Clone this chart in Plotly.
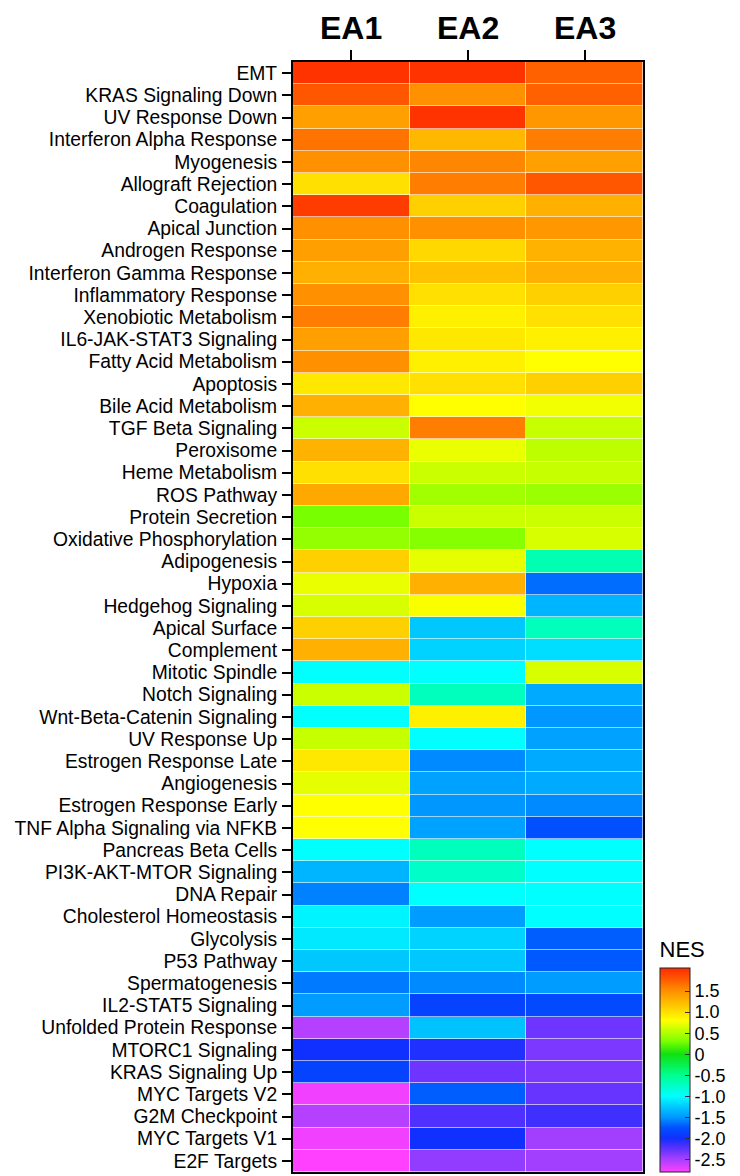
import plotly.graph_objects as go

pathways = [
    "EMT", "KRAS Signaling Down", "UV Response Down", "Interferon Alpha Response",
    "Myogenesis", "Allograft Rejection", "Coagulation", "Apical Junction",
    "Androgen Response", "Interferon Gamma Response", "Inflammatory Response",
    "Xenobiotic Metabolism", "IL6-JAK-STAT3 Signaling", "Fatty Acid Metabolism",
    "Apoptosis", "Bile Acid Metabolism", "TGF Beta Signaling", "Peroxisome",
    "Heme Metabolism", "ROS Pathway", "Protein Secretion", "Oxidative Phosphorylation",
    "Adipogenesis", "Hypoxia", "Hedgehog Signaling", "Apical Surface", "Complement",
    "Mitotic Spindle", "Notch Signaling", "Wnt-Beta-Catenin Signaling", "UV Response Up",
    "Estrogen Response Late", "Angiogenesis", "Estrogen Response Early",
    "TNF Alpha Signaling via NFKB", "Pancreas Beta Cells", "PI3K-AKT-MTOR Signaling",
    "DNA Repair", "Cholesterol Homeostasis", "Glycolysis", "P53 Pathway",
    "Spermatogenesis", "IL2-STAT5 Signaling", "Unfolded Protein Response",
    "MTORC1 Signaling", "KRAS Signaling Up", "MYC Targets V2", "G2M Checkpoint",
    "MYC Targets V1", "E2F Targets",
]
groups = ["EA1", "EA2", "EA3"]

ea1 = [2.0, 1.8, 1.4, 1.65, 1.5, 1.0, 1.95, 1.5, 1.4, 1.3, 1.5, 1.6, 1.4, 1.5,
       0.95, 1.3, 0.6, 1.28, 1.0, 1.35, 0.3, 0.4, 1.1, 0.72, 0.65, 1.1, 1.3,
       -1.0, 0.6, -1.0, 0.58, 0.95, 0.7, 0.8, 0.8, -1.0, -1.35, -1.58, -1.05,
       -1.1, -1.25, -1.6, -1.48, -2.55, -2.0, -1.85, -2.75, -2.55, -2.75, -2.8]
ea2 = [2.0, 1.5, 2.0, 1.25, 1.55, 1.6, 1.1, 1.5, 1.05, 1.2, 1.0, 0.9, 0.95, 0.9,
       1.0, 0.8, 1.6, 0.72, 0.6, 0.45, 0.6, 0.35, 0.7, 1.3, 0.78, -1.25, -1.2,
       -1.0, -0.7, 0.9, -1.0, -1.55, -1.45, -1.5, -1.45, -0.7, -0.75, -1.0, -1.48,
       -1.2, -1.25, -1.55, -1.85, -1.28, -2.05, -2.3, -1.7, -2.2, -2.0, -2.42]
ea3 = [1.75, 1.75, 1.45, 1.6, 1.4, 1.8, 1.3, 1.45, 1.28, 1.3, 1.1, 1.0, 0.9, 0.8,
       1.1, 0.75, 0.58, 0.55, 0.58, 0.42, 0.6, 0.65, -0.65, -1.65, -1.35, -0.7, -1.15,
       0.65, -1.4, -1.5, -1.45, -1.4, -1.4, -1.55, -1.75, -1.0, -1.0, -1.0, -1.0,
       -1.7, -1.72, -1.48, -1.8, -2.3, -2.35, -2.35, -2.28, -2.15, -2.48, -2.48]

cbar_vals = [1.5, 1.0, 0.5, 0, -0.5, -1.0, -1.5, -2.0, -2.5]
cbar_text = ["1.5", "1.0", "0.5", "0", "-0.5", "-1.0", "-1.5", "-2.0", "-2.5"]

zmin, zmax = -2.8, 2.05
anchors = [
    (-2.8, "#ff40ff"), (-2.5, "#a840ff"), (-2.2, "#5030ff"), (-2.0, "#1030ff"),
    (-1.75, "#0050ff"), (-1.5, "#0098ff"), (-1.25, "#00c8ff"), (-1.0, "#00ffff"),
    (-0.5, "#00ff90"), (0.0, "#10e010"), (0.3, "#78ff00"), (0.5, "#b0ff00"),
    (0.8, "#ffff00"), (1.0, "#ffe000"), (1.25, "#ffb800"), (1.5, "#ff9000"),
    (1.75, "#ff6000"), (2.05, "#ff2a00"),
]
colorscale = [[(v - zmin) / (zmax - zmin), c] for v, c in anchors]

z = [[a, b, c] for a, b, c in zip(ea1, ea2, ea3)]

font_family = "Arial, Liberation Sans, Helvetica, sans-serif"

fig = go.Figure(go.Heatmap(
    z=z, x=groups, y=pathways,
    colorscale=colorscale, zmin=zmin, zmax=zmax,
    xgap=0.6, ygap=0.6,
    colorbar=dict(
        title=dict(text="NES", side="top", font=dict(size=22, color="black", family=font_family)),
        tickvals=cbar_vals, ticktext=cbar_text,
        tickfont=dict(size=18, color="black", family=font_family),
        ticks="inside", ticklen=5, tickcolor="#333",
        thickness=30, thicknessmode="pixels",
        len=234, lenmode="pixels",
        x=1.0486, xanchor="left", xpad=0,
        y=0.0, yanchor="bottom", ypad=0,
        outlinewidth=1, outlinecolor="#222",
    ),
))

# column headers placed at the category positions of the x axis
for g in groups:
    fig.add_annotation(
        x=g, y=1, xref="x", yref="paper", yanchor="middle", yshift=34,
        text="<b>%s</b>" % g, showarrow=False,
        font=dict(size=32, color="black", family=font_family),
    )

fig.update_xaxes(
    side="top", ticks="outside", ticklen=10, tickwidth=2, tickcolor="black",
    tickmode="linear", dtick=1, showticklabels=False,
    showline=True, linecolor="black", linewidth=2, mirror=True,
    showgrid=False, zeroline=False, automargin=False,
)
fig.update_yaxes(
    autorange="reversed", ticks="outside", ticklen=9, tickwidth=2, tickcolor="black",
    tickmode="linear", dtick=1,
    tickfont=dict(size=19.3, color="black", family=font_family),
    showline=True, linecolor="black", linewidth=2, mirror=True,
    showgrid=False, zeroline=False, ticklabelstandoff=1, automargin=False,
)

# the page body adds an 8px offset, so the figure is sized to fit the window
fig.update_layout(
    width=732, height=1168,
    margin=dict(l=285, r=97, t=54, b=4, autoexpand=False),
    paper_bgcolor="white", plot_bgcolor="white",
    font=dict(family=font_family, color="black"),
)

fig.write_html("out.html")
